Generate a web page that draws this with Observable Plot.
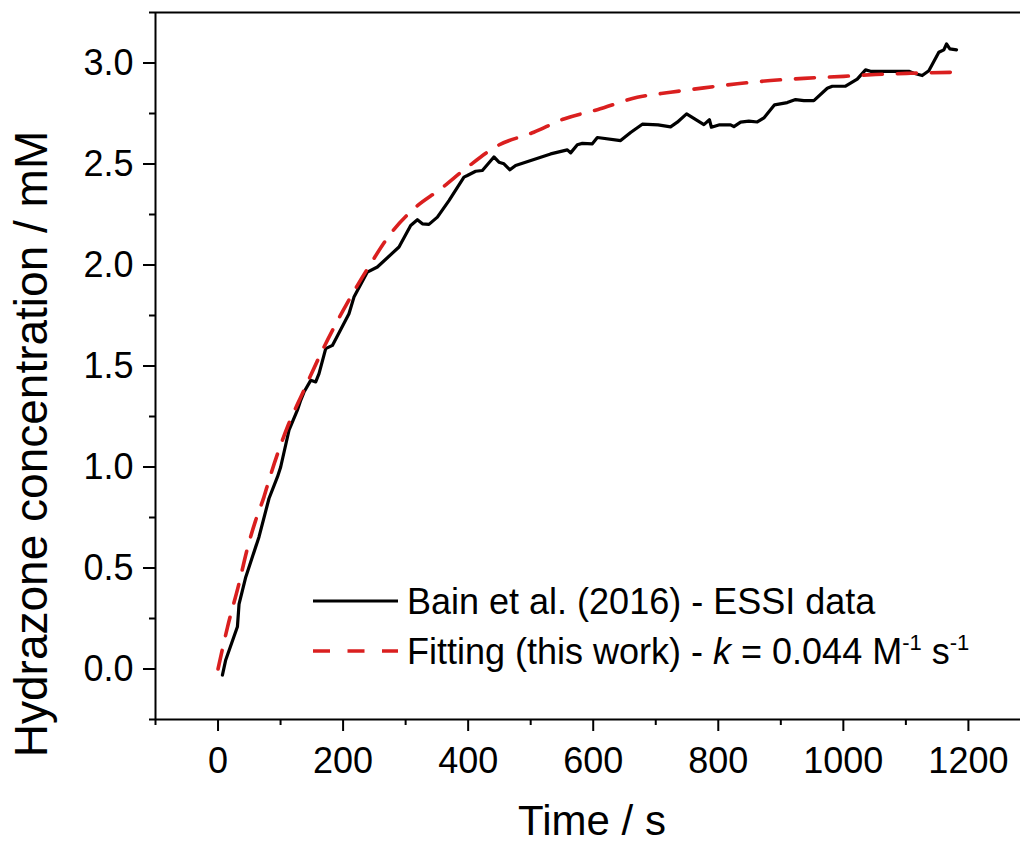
<!DOCTYPE html>
<html>
<head>
<meta charset="utf-8">
<script src="https://cdn.jsdelivr.net/npm/d3@7"></script>
<script src="https://cdn.jsdelivr.net/npm/@observablehq/plot@0.6"></script>
<style>
  html, body { margin: 0; padding: 0; background: #fff; }
  #chart { width: 1020px; height: 843px; overflow: hidden; }
</style>
</head>
<body>
<div id="chart"></div>
<script>
// ESSI data (Bain et al. 2016)
const dataTime = [7.0, 12.3, 31.0, 33.6, 44.4, 65.5, 81.5, 95.0, 100.2, 113.5, 126.9, 132.2, 137.5, 148.2, 156.2, 161.5, 172.2, 182.9, 209.4, 217.4, 238.8, 254.8, 289.4, 308.1, 318.8, 326.8, 337.3, 350.8, 369.3, 393.3, 398.7, 412.0, 422.7, 441.2, 449.2, 457.2, 466.8, 475.9, 531.9, 558.6, 563.9, 574.6, 582.6, 598.6, 606.6, 643.8, 659.8, 678.5, 703.8, 723.7, 734.5, 749.3, 777.0, 785.8, 789.0, 802.1, 819.7, 825.0, 835.7, 848.9, 862.4, 872.9, 890.0, 910.3, 923.6, 936.9, 952.8, 974.3, 982.3, 1003.5, 1022.2, 1035.5, 1043.5, 1104.7, 1112.7, 1126.1, 1136.7, 1152.7, 1160.7, 1165.0, 1170.3, 1181.0];
const dataConc = [-0.030, 0.045, 0.209, 0.321, 0.456, 0.654, 0.844, 0.951, 1.000, 1.182, 1.281, 1.330, 1.371, 1.429, 1.421, 1.462, 1.586, 1.602, 1.759, 1.841, 1.965, 1.990, 2.089, 2.196, 2.224, 2.204, 2.201, 2.237, 2.319, 2.435, 2.443, 2.464, 2.468, 2.535, 2.509, 2.501, 2.471, 2.493, 2.550, 2.570, 2.555, 2.595, 2.602, 2.600, 2.631, 2.616, 2.656, 2.697, 2.694, 2.684, 2.707, 2.748, 2.695, 2.719, 2.682, 2.694, 2.694, 2.685, 2.707, 2.712, 2.708, 2.728, 2.793, 2.804, 2.819, 2.814, 2.814, 2.875, 2.885, 2.885, 2.920, 2.966, 2.959, 2.959, 2.949, 2.938, 2.962, 3.053, 3.065, 3.094, 3.070, 3.065];

// Fitting curve (this work)
const fitTime = [0, 15, 33.6, 47, 60.3, 73.5, 81.5, 111, 135, 169.5, 212, 244, 276, 313, 356, 398.7, 446.7, 505, 553, 606.6, 670.5, 723.7, 777, 830.4, 883.6, 936.9, 1000.8, 1051.5, 1107.4, 1174.1];
const fitConc = [0, 0.205, 0.424, 0.597, 0.737, 0.852, 0.935, 1.198, 1.364, 1.594, 1.841, 2.006, 2.155, 2.278, 2.377, 2.484, 2.590, 2.657, 2.723, 2.769, 2.830, 2.855, 2.877, 2.897, 2.913, 2.924, 2.934, 2.943, 2.949, 2.954];

const xTicks = [0, 200, 400, 600, 800, 1000, 1200];
const xMinorTicks = [-100, 100, 300, 500, 700, 900, 1100];
const yTicks = [0, 0.5, 1.0, 1.5, 2.0, 2.5, 3.0];
const yMinorTicks = [-0.25, 0.25, 0.75, 1.25, 1.75, 2.25, 2.75, 3.25];

const xLabel = "Time / s";
const yLabel = "Hydrazone concentration / mM";
const legendData = "Bain et al. (2016) - ESSI data";

const data = dataTime.map((t, i) => ({t, c: dataConc[i]}));
const fit = fitTime.map((t, i) => ({t, c: fitConc[i]}));

const FONT = "'Liberation Sans', Arial, Helvetica, sans-serif";
const RED = "#da1f1f";

const chart = Plot.plot({
  width: 1020,
  height: 843,
  marginLeft: 155,
  marginRight: 0,
  marginTop: 12,
  marginBottom: 124,
  style: {fontFamily: FONT, background: "white", color: "black", overflow: "visible"},
  x: {domain: [-100, 1283.3]},
  y: {domain: [-0.25, 3.25]},
  marks: [
    Plot.ruleY([-0.25], {stroke: "black", strokeWidth: 2}),
    Plot.ruleY([3.25], {stroke: "black", strokeWidth: 2}),
    Plot.ruleX([-100], {stroke: "black", strokeWidth: 2}),
    Plot.axisX({ticks: xTicks, tickSize: 12, tickPadding: 16, fontSize: 36, label: null, strokeWidth: 2, tickFormat: d => String(d)}),
    Plot.axisX({ticks: xMinorTicks, tickSize: 6, text: null, label: null, strokeWidth: 2}),
    Plot.axisY({ticks: yTicks, tickSize: 12, tickPadding: 10, fontSize: 36, label: null, strokeWidth: 2, tickFormat: d3.format(".1f")}),
    Plot.axisY({ticks: yMinorTicks, tickSize: 6, text: null, label: null, strokeWidth: 2}),
    Plot.line(data, {x: "t", y: "c", stroke: "black", strokeWidth: 3.2, strokeLinejoin: "round"}),
    Plot.line(fit, {x: "t", y: "c", stroke: RED, strokeWidth: 3.6, strokeDasharray: "19,15", curve: "monotone-x"})
  ]
});

const svg = d3.select(chart);
// Axis titles
svg.append("text")
  .attr("x", 592).attr("y", 835)
  .attr("text-anchor", "middle")
  .attr("font-family", FONT).attr("font-size", 42).attr("fill", "black")
  .text(xLabel);
svg.append("text")
  .attr("transform", "translate(47,444) rotate(-90)")
  .attr("text-anchor", "middle")
  .attr("font-family", FONT).attr("font-size", 46).attr("fill", "black")
  .text(yLabel);

// Legend
const lg = svg.append("g").attr("font-family", FONT).attr("fill", "black").attr("text-anchor", "start");
lg.append("line").attr("x1", 313).attr("x2", 398).attr("y1", 601).attr("y2", 601)
  .attr("stroke", "black").attr("stroke-width", 3.2);
lg.append("line").attr("x1", 313).attr("x2", 398).attr("y1", 651).attr("y2", 651)
  .attr("stroke", RED).attr("stroke-width", 3.6).attr("stroke-dasharray", "17,17.5");
lg.append("text").attr("x", 407).attr("y", 614).attr("font-size", 36).attr("text-anchor", "start").text(legendData);
const t2 = lg.append("text").attr("x", 407).attr("y", 664).attr("font-size", 36).attr("text-anchor", "start");
t2.append("tspan").text("Fitting (this work) - ");
t2.append("tspan").attr("font-style", "italic").text("k");
t2.append("tspan").text(" = 0.044 M");
t2.append("tspan").attr("font-size", 22).attr("dy", -14).text("-1");
t2.append("tspan").attr("dy", 14).text(" s");
t2.append("tspan").attr("font-size", 22).attr("dy", -14).text("-1");

document.getElementById("chart").appendChild(chart);
</script>
</body>
</html>
